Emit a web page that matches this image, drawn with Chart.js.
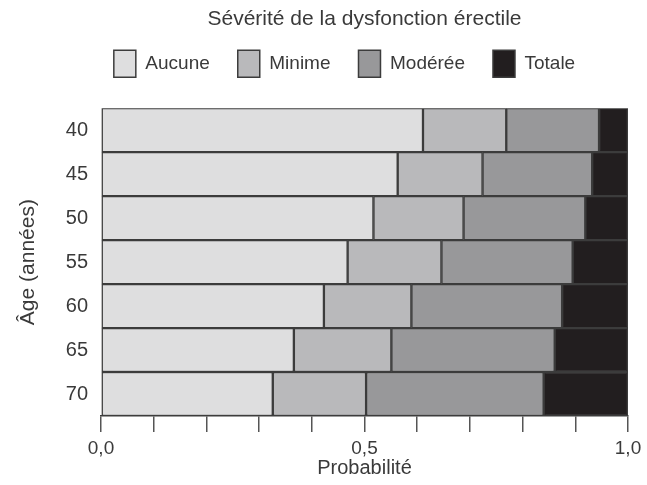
<!DOCTYPE html>
<html lang="fr">
<head>
  <meta charset="UTF-8">
  <title>Sévérité de la dysfonction érectile</title>
  <script src="https://cdn.jsdelivr.net/npm/chart.js"></script>
  <style>
    body { margin: 0; background: #fff; }
    #wrap { width: 647px; height: 485px; }
  </style>
</head>
<body>
  <div id="wrap"><canvas id="chart"></canvas></div>

  <script>
    const ages = ['40', '45', '50', '55', '60', '65', '70'];
    const aucune  = [0.611, 0.563, 0.517, 0.468, 0.423, 0.366, 0.326];
    const minime  = [0.158, 0.161, 0.171, 0.178, 0.166, 0.185, 0.177];
    const moderee = [0.176, 0.208, 0.231, 0.249, 0.286, 0.310, 0.337];
    const totale  = [0.055, 0.068, 0.081, 0.105, 0.125, 0.139, 0.160];
    const xLabels = { 0: '0,0', 0.5: '0,5', 1: '1,0' };

    Chart.defaults.font.family = '"Liberation Sans", Arial, sans-serif';
    Chart.defaults.color = '#3a3a3a';

    function ds(label, data, color) {
      return { label: label, data: data, backgroundColor: color, borderColor: '#3c3c3c',
               borderWidth: 1.5, borderSkipped: false, barPercentage: 1, categoryPercentage: 1 };
    }

    // room between legend and bars, and nudge the legend a bit to the left
    const legendTweak = {
      id: 'legendTweak',
      beforeInit(chart) {
        const fit = chart.legend.fit;
        chart.legend.fit = function () { fit.call(this); this.height += 21; };
      },
      afterLayout(chart) {
        chart.legend.left -= 20;
        chart.legend.right -= 20;
      }
    };

    new Chart(document.getElementById('chart'), {
      type: 'bar',
      data: {
        labels: ages,
        datasets: [
          ds('Aucune', aucune, '#dededf'),
          ds('Minime', minime, '#b9b9bb'),
          ds('Modérée', moderee, '#98989a'),
          ds('Totale', totale, '#221e1f')
        ]
      },
      options: {
        indexAxis: 'y',
        responsive: true,
        maintainAspectRatio: false,
        animation: false,
        layout: { padding: { left: 0, right: 19, top: 0, bottom: 0 } },
        plugins: {
          title: {
            display: true, fullSize: false, text: 'Sévérité de la dysfonction érectile',
            font: { size: 21, weight: 'normal' }, color: '#3a3a3a', padding: { top: 7, bottom: -10 }
          },
          legend: {
            position: 'top', fullSize: false,
            labels: { boxWidth: 22, boxHeight: 27, padding: 28, font: { size: 19 }, color: '#3a3a3a' }
          },
          tooltip: { enabled: false }
        },
        scales: {
          x: {
            stacked: true, min: 0, max: 1,
            ticks: {
              stepSize: 0.1, autoSkip: false, font: { size: 19 }, color: '#3a3a3a', padding: 5,
              callback: v => xLabels[Math.round(v * 10) / 10] || ''
            },
            grid: { drawOnChartArea: false, tickLength: 16, color: '#555', lineWidth: 1.5 },
            border: { display: true, color: '#3c3c3c', width: 1.5 },
            title: { display: true, text: 'Probabilité', font: { size: 20 }, color: '#3a3a3a', padding: { top: 0, bottom: 5 } },
            afterFit: s => { s.height = 69; }
          },
          y: {
            stacked: true,
            ticks: { font: { size: 20 }, color: '#3a3a3a', padding: 5 },
            grid: { display: false },
            border: { display: false },
            title: { display: true, text: 'Âge (années)', font: { size: 21 }, color: '#3a3a3a', padding: { top: 16, bottom: 0 } },
            afterFit: s => { s.width = 101; }
          }
        }
      },
      plugins: [legendTweak]
    });
  </script>
</body>
</html>
